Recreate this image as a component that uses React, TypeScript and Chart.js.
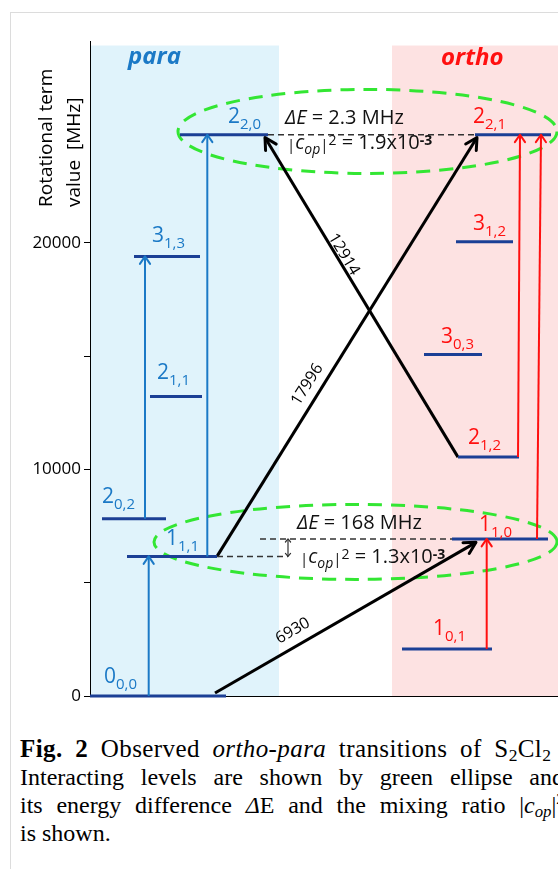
import React, { useEffect, useRef } from 'react';
import { Chart, registerables } from 'chart.js';
Chart.register(...registerables);

const FONT = '"Open Sans", "DejaVu Sans", sans-serif';

// ---- axis ----
const X_MIN = 90;
const X_MAX = 558;
const Y_MIN = 0;
const Y_MAX = 28900;
const Y_TICKS = [0, 5000, 10000, 15000, 20000];
const Y_TICK_LABELS = ['0', '', '10000', '', '20000'];
const Y_TITLE = ['Rotational term', 'value  [MHz]'];

// ---- para levels (J, Ka,Kc, energy MHz, horizontal extent) ----
const PARA_J = ['0', '1', '2', '2', '3', '2'];
const PARA_K = ['0,0', '1,1', '0,2', '1,1', '1,3', '2,0'];
const PARA_E = [0, 6159, 7823, 13219, 19395, 24765];
const PARA_X_FROM = [90, 127, 102, 150, 134, 180];
const PARA_X_TO = [226, 217, 166, 202, 200, 268];
const PARA_LABEL_X = [104, 166, 102, 157, 152, 228];
const PARA_LABEL_E = [556, 6645, 8498, 13969, 20013, 25264];

// ---- ortho levels ----
const ORTHO_J = ['1', '1', '2', '3', '3', '2'];
const ORTHO_K = ['0,1', '1,0', '1,2', '0,3', '1,2', '2,1'];
const ORTHO_E = [2069, 6930, 10540, 15072, 20044, 24765];
const ORTHO_X_FROM = [402, 452, 458, 424, 456, 475];
const ORTHO_X_TO = [492, 548, 519, 482, 513, 551];
const ORTHO_LABEL_X = [433, 479, 468, 441, 473, 473];
const ORTHO_LABEL_E = [2674, 7262, 11101, 15557, 20543, 25264];

// ---- para transitions (blue) ----
const PARA_TR_X_FROM = [148.7, 145, 207.3];
const PARA_TR_X_TO = [148.7, 145, 207.3];
const PARA_TR_E_FROM = [0, 7823, 6159];
const PARA_TR_E_TO = [6159, 19395, 24765];

// ---- ortho transitions (red) ----
const ORTHO_TR_X_FROM = [486.7, 518, 537];
const ORTHO_TR_X_TO = [486.7, 520, 541];
const ORTHO_TR_E_FROM = [2069, 10540, 6930];
const ORTHO_TR_E_TO = [6930, 24765, 24765];

// ---- ortho-para transitions (black) ----
const OP_X_FROM = [215, 217, 458];
const OP_E_FROM = [130, 6159, 10540];
const OP_X_TO = [476, 477, 265];
const OP_E_TO = [6780, 24640, 24640];
const OP_FREQ = ['6930', '17996', '12914'];
const OP_LABEL_T = [0.327, 0.393, 0.377];
const OP_LABEL_OFF = [15, 14, 7];

// ---- interacting pairs ----
const ELL_CX = [367.5, 355.5];
const ELL_CE = [24911, 6799];
const ELL_RX = [189.5, 201.5];
const ELL_RE = [1853, 1655];
const GUIDE_E = [24765, 6930, 6159];
const GUIDE_X_FROM = [268, 260, 217];
const GUIDE_X_TO = [475, 452, 288];
const MIX_X = 288;
const MIX_E = [6930, 6159];
const DELTA_E = ['2.3 MHz', '168 MHz'];
const MIXING = ['1.9x10', '1.3x10'];
const DELTA_X = [285, 297];
const DELTA_BASE_E = [25219, 7350];
const MIX_TXT_X = [287, 300];
const MIX_TXT_E = [24120, 5850];

// ---- regions ----
const SIDE_NAMES = ['para', 'ortho'];
const SIDE_X_FROM = [90, 392];
const SIDE_X_TO = [279, 558];
const SIDE_TOP_E = 28700;
const SIDE_LABEL_X = [128, 441];
const SIDE_LABEL_E = [27866, 27822];

const C_LEVEL = '#1b3f95';
const C_PARA = '#1b79c6';
const C_ORTHO = '#ff1010';
const C_PARA_BG = '#e0f3fb';
const C_ORTHO_BG = '#fde2e2';
const C_GREEN = '#33e633';

type Run = { t: string; it?: boolean; b?: boolean; sub?: boolean; sup?: boolean; dy?: number; size?: number };

function drawRuns(ctx: CanvasRenderingContext2D, x: number, y: number, runs: Run[], size: number, subSize: number, color: string) {
  ctx.fillStyle = color;
  ctx.textAlign = 'left';
  ctx.textBaseline = 'alphabetic';
  let cx = x;
  for (const r of runs) {
    const s = r.size || (r.sub || r.sup ? subSize : size);
    ctx.font = `${r.it ? 'italic ' : ''}${r.b ? 'bold ' : ''}${s}px ${FONT}`;
    const dy = r.dy !== undefined ? r.dy : r.sub ? size * 0.25 : r.sup ? -size * 0.33 : 0;
    ctx.fillText(r.t, cx, y + dy);
    cx += ctx.measureText(r.t).width;
  }
}

function arrowHead(ctx: CanvasRenderingContext2D, x1: number, y1: number, x2: number, y2: number, len: number, half: number) {
  const a = Math.atan2(y2 - y1, x2 - x1);
  ctx.beginPath();
  ctx.moveTo(x2 - len * Math.cos(a - half), y2 - len * Math.sin(a - half));
  ctx.lineTo(x2, y2);
  ctx.lineTo(x2 - len * Math.cos(a + half), y2 - len * Math.sin(a + half));
  ctx.stroke();
}

const seg = (x1: number, e1: number, x2: number, e2: number) => [
  { x: x1, y: e1 },
  { x: x2, y: e2 },
];

function buildDatasets() {
  const ds: any[] = [];
  const base = { pointRadius: 0, pointHoverRadius: 0, fill: false, tension: 0, clip: false };
  GUIDE_E.forEach((e, i) =>
    ds.push({ ...base, data: seg(GUIDE_X_FROM[i], e, GUIDE_X_TO[i], e), borderColor: '#333', borderWidth: 1.5, borderDash: [6, 4] })
  );
  ds.push({ ...base, data: seg(MIX_X, MIX_E[0], MIX_X, MIX_E[1]), borderColor: '#333', borderWidth: 1.2, head: 'both' });
  PARA_TR_X_FROM.forEach((x, i) =>
    ds.push({ ...base, data: seg(x, PARA_TR_E_FROM[i], PARA_TR_X_TO[i], PARA_TR_E_TO[i]), borderColor: C_PARA, borderWidth: 2, head: 'thin' })
  );
  ORTHO_TR_X_FROM.forEach((x, i) =>
    ds.push({ ...base, data: seg(x, ORTHO_TR_E_FROM[i], ORTHO_TR_X_TO[i], ORTHO_TR_E_TO[i]), borderColor: C_ORTHO, borderWidth: 2, head: 'thin' })
  );
  PARA_E.forEach((e, i) =>
    ds.push({ ...base, data: seg(PARA_X_FROM[i], e, PARA_X_TO[i], e), borderColor: C_LEVEL, borderWidth: 3 })
  );
  ORTHO_E.forEach((e, i) =>
    ds.push({ ...base, data: seg(ORTHO_X_FROM[i], e, ORTHO_X_TO[i], e), borderColor: C_LEVEL, borderWidth: 3 })
  );
  OP_X_FROM.forEach((x, i) =>
    ds.push({ ...base, data: seg(x, OP_E_FROM[i], OP_X_TO[i], OP_E_TO[i]), borderColor: '#000', borderWidth: 3, head: 'thick', freq: i })
  );
  return ds;
}

const diagramPlugin = {
  id: 'diagram',
  beforeDraw(chart: any) {
    const { ctx, scales } = chart;
    const X = (v: number) => scales.x.getPixelForValue(v);
    const Y = (v: number) => scales.y.getPixelForValue(v);
    ctx.save();
    SIDE_NAMES.forEach((_n, i) => {
      ctx.fillStyle = i === 0 ? C_PARA_BG : C_ORTHO_BG;
      ctx.fillRect(X(SIDE_X_FROM[i]), Y(SIDE_TOP_E), X(SIDE_X_TO[i]) - X(SIDE_X_FROM[i]), Y(0) - Y(SIDE_TOP_E));
    });
    ctx.strokeStyle = C_GREEN;
    ctx.lineWidth = 3;
    ctx.setLineDash([14, 9]);
    ELL_CX.forEach((cx, i) => {
      const px = X(cx);
      const py = Y(ELL_CE[i]);
      ctx.beginPath();
      ctx.ellipse(px, py, X(cx + ELL_RX[i]) - px, Y(ELL_CE[i] - ELL_RE[i]) - py, 0, 0, Math.PI * 2);
      ctx.stroke();
    });
    ctx.restore();
  },
  afterDatasetsDraw(chart: any) {
    const { ctx, scales } = chart;
    const X = (v: number) => scales.x.getPixelForValue(v);
    const Y = (v: number) => scales.y.getPixelForValue(v);
    ctx.save();
    ctx.setLineDash([]);
    ctx.lineCap = 'round';
    ctx.lineJoin = 'round';
    chart.data.datasets.forEach((d: any, i: number) => {
      if (!d.head) return;
      const pts = chart.getDatasetMeta(i).data;
      const p0 = pts[0];
      const p1 = pts[1];
      ctx.strokeStyle = d.borderColor;
      if (d.head === 'thin') {
        ctx.lineWidth = 2;
        arrowHead(ctx, p0.x, p0.y, p1.x, p1.y, 9, 0.6);
      } else if (d.head === 'thick') {
        ctx.lineWidth = 3;
        arrowHead(ctx, p0.x, p0.y, p1.x, p1.y, 13, 0.5);
        const k = d.freq;
        const a = p0.x <= p1.x ? p0 : p1;
        const b = p0.x <= p1.x ? p1 : p0;
        const th = Math.atan2(b.y - a.y, b.x - a.x);
        const t = OP_LABEL_T[k];
        const off = OP_LABEL_OFF[k];
        const cx = a.x + t * (b.x - a.x) + off * Math.sin(th);
        const cy = a.y + t * (b.y - a.y) - off * Math.cos(th);
        ctx.save();
        ctx.translate(cx, cy);
        ctx.rotate(th);
        ctx.fillStyle = '#000';
        ctx.font = `16px ${FONT}`;
        ctx.textAlign = 'center';
        ctx.textBaseline = 'middle';
        ctx.fillText(OP_FREQ[k], 0, 0);
        ctx.restore();
      } else if (d.head === 'both') {
        ctx.lineWidth = 1.2;
        arrowHead(ctx, p0.x, p0.y, p1.x, p1.y, 4, 0.7);
        arrowHead(ctx, p1.x, p1.y, p0.x, p0.y, 4, 0.7);
      }
    });
    PARA_J.forEach((j, i) =>
      drawRuns(ctx, X(PARA_LABEL_X[i]), Y(PARA_LABEL_E[i]), [{ t: j }, { t: PARA_K[i], sub: true }], 21, 15, C_PARA)
    );
    ORTHO_J.forEach((j, i) =>
      drawRuns(ctx, X(ORTHO_LABEL_X[i]), Y(ORTHO_LABEL_E[i]), [{ t: j }, { t: ORTHO_K[i], sub: true }], 21, 15, C_ORTHO)
    );
    DELTA_E.forEach((txt, i) => {
      drawRuns(ctx, X(DELTA_X[i]), Y(DELTA_BASE_E[i]), [{ t: '\u0394E', it: true }, { t: ' = ' + txt }], 20, 14, '#111');
      drawRuns(
        ctx,
        X(MIX_TXT_X[i]),
        Y(MIX_TXT_E[i]),
        [
          { t: '|', size: 15, dy: 1 },
          { t: 'c', it: true },
          { t: 'op', it: true, sub: true, dy: 5 },
          { t: '|', size: 15, dy: 1 },
          { t: '2', sup: true, dy: -4 },
          { t: ' = ' + MIXING[i] },
          { t: '-3', sup: true, b: true, dy: -4 },
        ],
        20,
        14,
        '#111'
      );
    });
    SIDE_NAMES.forEach((n, i) => {
      ctx.fillStyle = i === 0 ? C_PARA : C_ORTHO;
      ctx.font = `italic bold 24px ${FONT}`;
      ctx.textAlign = 'left';
      ctx.textBaseline = 'alphabetic';
      ctx.fillText(n, X(SIDE_LABEL_X[i]), Y(SIDE_LABEL_E[i]));
    });
    ctx.restore();
  },
  afterDraw(chart: any) {
    const { ctx, chartArea } = chart;
    ctx.save();
    ctx.fillStyle = '#000';
    ctx.font = `19px ${FONT}`;
    ctx.textAlign = 'left';
    ctx.textBaseline = 'alphabetic';
    const xs = [chartArea.left - 38, chartArea.left - 10];
    Y_TITLE.forEach((line, i) => {
      ctx.save();
      ctx.translate(xs[i], chartArea.top + 166);
      ctx.rotate(-Math.PI / 2);
      ctx.fillText(line, 0, 0);
      ctx.restore();
    });
    ctx.restore();
  },
};

export default function App() {
  const ref = useRef<HTMLCanvasElement>(null);
  useEffect(() => {
    const chart = new Chart(ref.current as HTMLCanvasElement, {
      type: 'line',
      data: { datasets: buildDatasets() },
      options: {
        responsive: false,
        animation: false,
        devicePixelRatio: 1,
        events: [],
        layout: { padding: { left: 0, right: 0, top: 41, bottom: 24 } },
        plugins: { legend: { display: false }, tooltip: { enabled: false } },
        scales: {
          x: {
            type: 'linear',
            min: X_MIN,
            max: X_MAX,
            ticks: { display: false },
            grid: { display: false },
            border: { display: true, color: '#000', width: 1 },
            afterFit: (s: any) => {
              s.height = 0;
            },
          },
          y: {
            type: 'linear',
            min: Y_MIN,
            max: Y_MAX,
            afterBuildTicks: (s: any) => {
              s.ticks = Y_TICKS.map((v) => ({ value: v }));
            },
            ticks: {
              autoSkip: false,
              callback: (_v: any, i: number) => Y_TICK_LABELS[i],
              color: '#000',
              font: { family: FONT, size: 17 },
              padding: 3,
            },
            grid: { drawOnChartArea: false, drawTicks: true, tickLength: 6, color: '#000' },
            border: { display: true, color: '#000', width: 1 },
            afterFit: (s: any) => {
              s.width = 90;
            },
          },
        },
      },
      plugins: [diagramPlugin],
    } as any);
    return () => chart.destroy();
  }, []);

  const sub = { fontSize: '0.7em', verticalAlign: '-0.25em', lineHeight: 0 } as React.CSSProperties;
  const sup = { fontSize: '0.65em', verticalAlign: '0.55em', lineHeight: 0 } as React.CSSProperties;
  const justify = { textAlign: 'justify', textAlignLast: 'justify' } as React.CSSProperties;

  return (
    <div style={{ position: 'absolute', left: 0, top: 0, width: 558, height: 869, overflow: 'hidden', background: '#fff' }}>
      <div
        style={{
          position: 'absolute',
          left: 10,
          top: 12,
          width: 700,
          height: 1000,
          borderLeft: '1px solid #dcdcdc',
          borderTop: '1px solid #dcdcdc',
        }}
      />
      <canvas ref={ref} width={558} height={720} style={{ position: 'absolute', left: 0, top: 0, width: 558, height: 720 }} />
      <div
        style={{
          position: 'absolute',
          left: 20,
          top: 735,
          width: 544,
          fontFamily: '"Liberation Serif", "Times New Roman", serif',
          fontSize: 24,
          lineHeight: '28px',
          color: '#000',
        }}
      >
        <div style={{ whiteSpace: 'nowrap', fontSize: 25, letterSpacing: '0.4px', wordSpacing: '6px' }}>
          <b>Fig. 2</b> Observed <i>ortho-para</i> transitions of S<span style={sub}>2</span>Cl<span style={sub}>2</span>
        </div>
        <div style={justify}>Interacting levels are shown by green ellipse and</div>
        <div style={justify}>
          its energy difference <i>&#916;</i>E and the mixing ratio |<i>c</i>
          <span style={sub}>
            <i>op</i>
          </span>
          |<span style={sup}>2</span>
        </div>
        <div>is shown.</div>
      </div>
    </div>
  );
}
